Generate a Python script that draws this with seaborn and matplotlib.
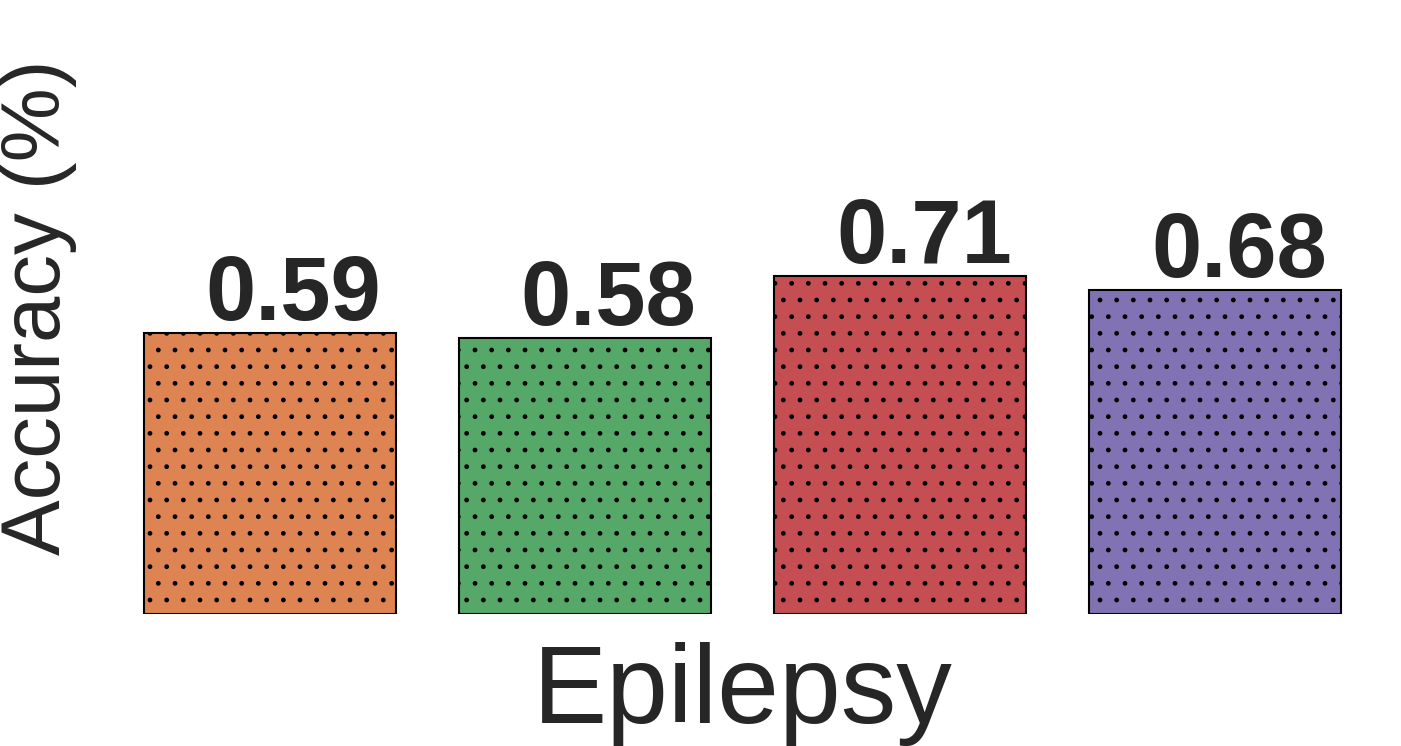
import numpy as np
import pandas as pd
import matplotlib
matplotlib.use("Agg")
import matplotlib.pyplot as plt
import seaborn as sns

# dados
modelos = ["M1", "M2", "M3", "M4"]
acuracia = [0.59, 0.58, 0.71, 0.68]
rotulos = ["0.59", "0.58", "0.71", "0.68"]

sns.set_theme(style="white")
plt.rcParams['font.family'] = ['Liberation Sans', 'DejaVu Sans']

df = pd.DataFrame({"modelo": modelos, "acc": acuracia})
cores = sns.color_palette("deep")[1:5]

fig = plt.figure(figsize=(14.01, 7.46), dpi=100)
ax = fig.add_axes([112 / 1401, 132 / 746, 1261 / 1401, 614 / 746])

sns.barplot(data=df, x="modelo", y="acc", hue="modelo", palette=cores,
            legend=False, width=0.8, edgecolor="black", linewidth=1.5,
            saturation=1, ax=ax)
for p in ax.patches:
    p.set_hatch(".")

for i, (v, t) in enumerate(zip(acuracia, rotulos)):
    ax.text(i + 0.075, v + 0.027, t, ha="center", va="baseline",
            fontsize=65, fontweight="bold", color="#262626")

ax.set_ylim(0, 1.29)
ax.set_xticks([])
ax.set_yticks([])
for s in ax.spines.values():
    s.set_visible(False)
ax.set_xlabel("Epilepsy", fontsize=80, labelpad=20, color="#262626")
ax.set_ylabel("Accuracy (%)", fontsize=60, labelpad=25, color="#262626")

fig.savefig("out.png", dpi=100)
